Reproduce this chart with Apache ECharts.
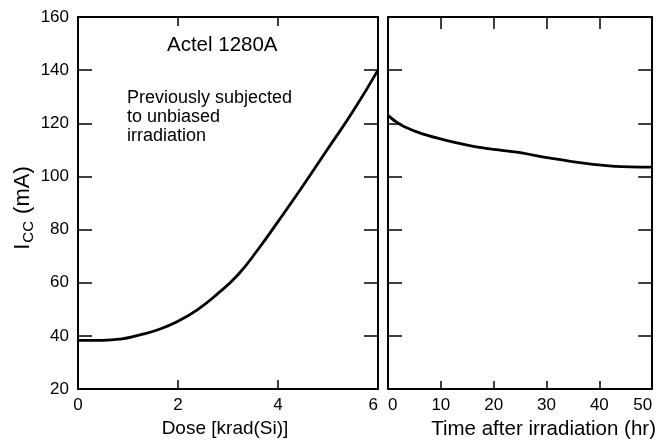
<!DOCTYPE html>
<html>
<head>
<meta charset="utf-8">
<script src="https://cdn.jsdelivr.net/npm/echarts@6/dist/echarts.min.js"></script>
<style>
html,body{margin:0;padding:0;background:#fff;}
#chart{width:659px;height:448px;}
</style>
</head>
<body>
<div id="chart"></div>
<script>
// ---- data ----
const doseX = [0, 0.5, 0.85, 1.2, 1.6, 2.0, 2.4, 2.8, 3.2, 3.6, 4.0, 4.5, 5.0, 5.5, 6.0];
const doseIcc = [38.3, 38.3, 38.8, 40.2, 42.3, 45.5, 50, 56, 63, 72.5, 83, 96.5, 110.5, 124.5, 140];
const timeX = [0, 1.5, 3, 6.5, 11, 17, 24, 31, 37, 43, 50];
const timeIcc = [123, 120.6, 118.8, 116, 113.6, 111, 109.2, 106.8, 105, 103.8, 103.5];
const doseTicks = [0, 2, 4, 6];
const timeTicks = [0, 10, 20, 30, 40, 50];
const iccTicks = [20, 40, 60, 80, 100, 120, 140, 160];

const FONT = "'Liberation Sans', Arial, Helvetica, sans-serif";
const lineStyle = {color: '#000', width: 2};
function tickRange(t){ return {min: t[0], max: t[t.length-1], interval: t[1]-t[0]}; }

const chart = echarts.init(document.getElementById('chart'), null, {renderer: 'canvas'});

function xAx(grid, ticks, pos, tickLen, showLabel, extra){
  return Object.assign({
    type: 'value', gridIndex: grid, position: pos, ...tickRange(ticks),
    axisLine: {show: true, onZero: false, lineStyle},
    axisTick: {show: true, inside: true, length: tickLen, lineStyle: {color: '#000', width: 1.5}},
    axisLabel: {show: showLabel, color: '#000', fontSize: 17, fontFamily: FONT, margin: 8},
    splitLine: {show: false}
  }, extra || {});
}
function yAx(grid, pos, tickLen, showLabel, extra){
  return Object.assign({
    type: 'value', gridIndex: grid, position: pos, ...tickRange(iccTicks),
    axisLine: {show: true, onZero: false, lineStyle},
    axisTick: {show: true, inside: true, length: tickLen, lineStyle: {color: '#000', width: 1.5}},
    axisLabel: {show: showLabel, color: '#000', fontSize: 17, fontFamily: FONT, margin: 9},
    splitLine: {show: false}
  }, extra || {});
}

const option = {
  animation: false,
  backgroundColor: '#fff',
  grid: [
    {left: 78, top: 17, width: 300, height: 372},
    {left: 388, top: 17, width: 267, height: 372}
  ],
  xAxis: [
    xAx(0, doseTicks, 'bottom', 9, true, {
      name: 'Dose [krad(Si)]', nameLocation: 'middle', nameGap: 30,
      nameTextStyle: {color: '#000', fontSize: 19, fontFamily: FONT, padding: [0, 6, 0, 0]},
      axisLabel: {show: true, color: '#000', fontSize: 17, fontFamily: FONT, margin: 8, alignMaxLabel: 'right'}
    }),
    xAx(0, doseTicks, 'top', 9, false),
    xAx(1, timeTicks, 'bottom', 8, true, {
      name: 'Time after irradiation (hr)', nameLocation: 'middle', nameGap: 29,
      nameTextStyle: {color: '#000', fontSize: 20.5, fontFamily: FONT, padding: [0, 0, 0, 47]},
      axisLabel: {show: true, color: '#000', fontSize: 17, fontFamily: FONT, margin: 8, alignMinLabel: 'left', alignMaxLabel: 'right'}
    }),
    xAx(1, timeTicks, 'top', 12, false)
  ],
  yAxis: [
    yAx(0, 'left', 14, true, {
      name: '{n|I}{s|CC}{n| (mA)}', nameLocation: 'middle', nameGap: 38,
      nameTextStyle: {
        color: '#000', fontFamily: FONT, padding: [0, 10, 0, 0],
        rich: {
          n: {fontSize: 22, lineHeight: 22, verticalAlign: 'top', color: '#000', fontFamily: FONT},
          s: {fontSize: 15, lineHeight: 15, verticalAlign: 'top', padding: [10, 1, 0, 1], color: '#000', fontFamily: FONT}
        }
      }
    }),
    yAx(0, 'right', 14, false),
    yAx(1, 'left', 14, false),
    yAx(1, 'right', 14, false)
  ],
  graphic: [
    {type: 'text', left: 167, top: 35, style: {text: 'Actel 1280A', fill: '#000', font: '20.5px ' + FONT}},
    {type: 'text', left: 127, top: 89, style: {text: 'Previously subjected\nto unbiased\nirradiation', fill: '#000', font: '18px ' + FONT, lineHeight: 19}}
  ],
  series: [
    {type: 'line', xAxisIndex: 0, yAxisIndex: 0, smooth: 0.5, showSymbol: false,
     lineStyle: {color: '#000', width: 2.8},
     data: doseX.map((x, i) => [x, doseIcc[i]])},
    {type: 'line', xAxisIndex: 2, yAxisIndex: 2, smooth: 0.3, showSymbol: false,
     lineStyle: {color: '#000', width: 2.8},
     data: timeX.map((x, i) => [x, timeIcc[i]])}
  ]
};
chart.setOption(option);
</script>
</body>
</html>
